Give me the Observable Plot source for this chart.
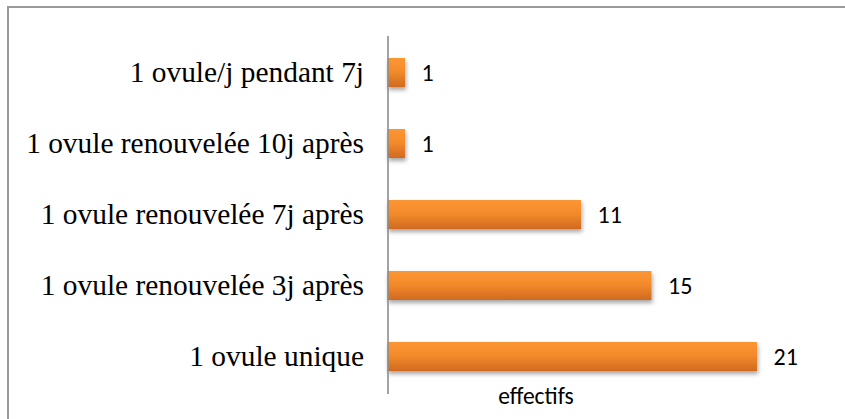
<!DOCTYPE html>
<html>
<head>
<meta charset="utf-8">
<script src="https://cdn.jsdelivr.net/npm/d3@7"></script>
<script src="https://cdn.jsdelivr.net/npm/@observablehq/plot@0.6"></script>
<style>
  html, body { margin: 0; padding: 0; background: #fff; overflow: hidden; }
  #wrap { position: relative; width: 845px; height: 419px; overflow: hidden; }
  #border { position: absolute; left: 7px; top: 6px; width: 900px; height: 500px; border: 2px solid #9a9a9a; box-sizing: border-box; }
  #chart { position: absolute; left: 0; top: 0; }
</style>
</head>
<body>
<div id="wrap"><div id="border"></div><div id="chart"></div></div>
<script>
const categories = [
  "1 ovule/j pendant 7j",
  "1 ovule renouvelée 10j après",
  "1 ovule renouvelée 7j après",
  "1 ovule renouvelée 3j après",
  "1 ovule unique"
];
const values = [1, 1, 11, 15, 21];
const axisTitle = "effectifs";

const data = categories.map((c, i) => ({category: c, value: values[i]}));
const sansFont = "Carlito, Calibri, Lato, sans-serif";

const plot = Plot.plot({
  width: 845,
  height: 419,
  marginLeft: 387.5,
  marginRight: 17.5,
  marginTop: 36,
  marginBottom: 25,
  x: {domain: [0, 25], axis: null},
  y: {domain: categories, paddingInner: 0.59, paddingOuter: 0.295, label: null},
  style: {background: "transparent"},
  marks: [
    Plot.barX(data, {x: "value", y: "category", fill: "url(#barGrad)", className: "bars"}),
    Plot.ruleX([0], {stroke: "#8c8c8c", strokeWidth: 1.6}),
    Plot.axisY({tickSize: 0, tickPadding: 24, fontSize: 29.4, fontFamily: "Liberation Serif, Times New Roman, serif", color: "#000", label: null}),
    Plot.text(data, {x: "value", y: "category", text: d => String(d.value), textAnchor: "start", dx: 16, fontSize: 24, fontFamily: sansFont, fill: "#000"}),
    Plot.text([axisTitle], {frameAnchor: "bottom-left", dx: 148, dy: 9, textAnchor: "middle", fontSize: 23.5, fontFamily: sansFont, fill: "#000", lineAnchor: "bottom"})
  ]
});

const svg = d3.select(plot);
const defs = svg.insert("defs", ":first-child");
const grad = defs.append("linearGradient").attr("id", "barGrad").attr("x1", 0).attr("y1", 0).attr("x2", 0).attr("y2", 1);
grad.append("stop").attr("offset", "0%").attr("stop-color", "#fb9632");
grad.append("stop").attr("offset", "45%").attr("stop-color", "#f48b2c");
grad.append("stop").attr("offset", "100%").attr("stop-color", "#d06a1f");
const f = defs.append("filter").attr("id", "shadow").attr("x", "-10%").attr("y", "-30%").attr("width", "130%").attr("height", "180%");
f.append("feDropShadow").attr("dx", 1).attr("dy", 3).attr("stdDeviation", 2.2).attr("flood-color", "#000").attr("flood-opacity", 0.35);
svg.selectAll("g.bars rect, .bars rect").attr("filter", "url(#shadow)");

document.getElementById("chart").appendChild(plot);
</script>
</body>
</html>
